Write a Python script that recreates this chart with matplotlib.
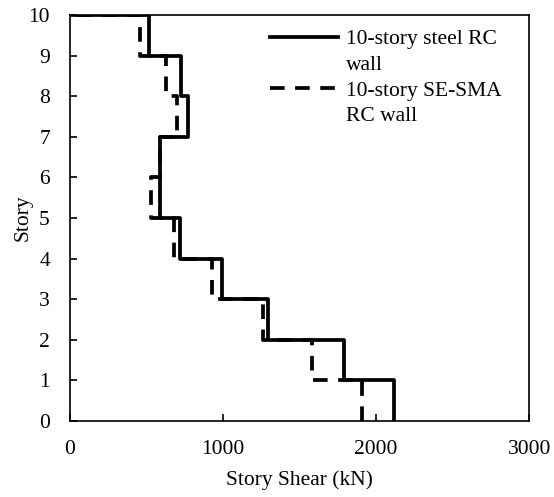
import matplotlib.pyplot as plt
from matplotlib.lines import Line2D
import numpy as np

plt.rcParams['font.family'] = ['Liberation Serif', 'DejaVu Serif']

# story shear for stories 1..10 (kN)
stories = np.arange(0, 11)
steel_shear = [2120, 1791, 1296, 995, 717, 591, 591, 771, 725, 518]
sma_shear = [1910, 1584, 1260, 930, 680, 529, 591, 701, 627, 458]

steel_label = ["10-story steel RC", "wall"]
sma_label = ["10-story SE-SMA", "RC wall"]

FS = 15.5
DASH = (0, (3.9, 2.8))


def step_path(shear):
    xs = list(np.repeat(shear, 2)) + [0]
    ys = [stories[0]] + list(np.repeat(stories[1:-1], 2)) + [stories[-1], stories[-1]]
    return xs, ys


fig = plt.figure(figsize=(5.54, 4.97), dpi=100)
ax = fig.add_axes([0.1264, 0.1529, 0.955 - 0.1264, 0.9698 - 0.1529])

x1, y1 = step_path(steel_shear)
x2, y2 = step_path(sma_shear)
ax.plot(x1, y1, 'k-', lw=2.7)
ax.plot(x2, y2, 'k', lw=2.7, linestyle=DASH)

ax.set_xlim(0, 3000)
ax.set_ylim(0, 10)
ax.set_xticks([0, 1000, 2000, 3000])
ax.set_yticks(range(0, 11))
ax.tick_params(direction='in', length=5, width=1.2, labelsize=FS)
ax.tick_params(axis='x', pad=14)
ax.tick_params(axis='y', pad=14.5)
for s in ax.spines.values():
    s.set_linewidth(1.2)

ax.set_xlabel("Story Shear (kN)", fontsize=FS, labelpad=8)
ax.set_ylabel("Story", fontsize=FS, labelpad=-3)

handles = [Line2D([], [], color='k', lw=2.7),
           Line2D([], [], color='none'),
           Line2D([], [], color='k', lw=2.7, linestyle=DASH),
           Line2D([], [], color='none')]
labels = [steel_label[0], steel_label[1], sma_label[0], sma_label[1]]
ax.legend(handles, labels, loc='upper left', frameon=False, fontsize=FS,
          handlelength=3.16, handletextpad=0.37, labelspacing=0.26,
          borderpad=0, borderaxespad=0, bbox_to_anchor=(0.436, 0.965))

fig.savefig("out.png", dpi=100)
